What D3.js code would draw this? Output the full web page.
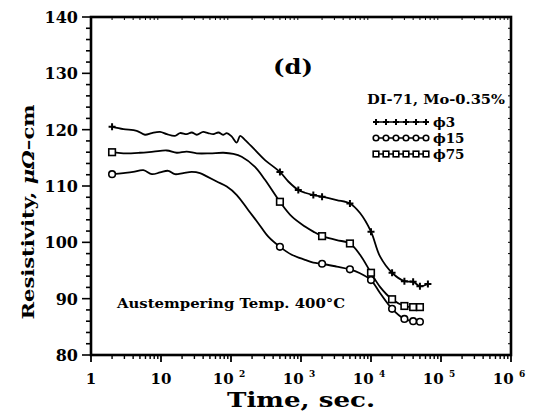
<!DOCTYPE html>
<html>
<head>
<meta charset="utf-8">
<script src="https://cdn.jsdelivr.net/npm/d3@7"></script>
<style>
body { margin: 0; background: #fff; }
text { font-family: "DejaVu Serif", "Liberation Serif", serif; font-weight: bold; fill: #000; }
</style>
</head>
<body>
<div id="chart"></div>
<script>
// resistivity vs time, [time (s), resistivity (uOhm-cm)]
var phi3 = [[2,120.5],[2.9,120.1],[4.5,119.8],[5.9,119.1],[7.4,119.4],[9.7,119.6],[12.1,119.2],
    [15.8,118.9],[18.7,119.4],[23.3,119.2],[27.5,119.5],[32.4,119.1],[40,119.6],[47,119.4],
    [56,119.2],[66,119.5],[78,119.1],[87,119.4],[102,118.8],[121,117.7],[135,118.9],[158,118.2],
    [220,116.4],[306,114.6],[500,112.5],[659,110.8],[915,109.3],[1140,108.8],[1500,108.4],
    [2000,108.1],[3240,107.5],[5000,106.9],[6970,105.2],[10000,101.9],[13450,97.5],
    [20000,94.6],[30000,93.1],[40000,93.0],[50000,92.2],[65000,92.6]];
var phi15 = [[2,112.1],[2.9,112.3],[4.0,112.5],[5.6,112.8],[7.4,112.1],[9.7,112.4],[12.7,112.7],
    [15.8,112.1],[20.8,112.3],[27.5,112.5],[36,112.3],[45,111.7],[62.5,110.8],[87,109.9],
    [121,108.4],[177,105.7],[245,103.4],[341,101.0],[500,99.2],[737,97.8],[1140,96.9],
    [1500,96.4],[2000,96.2],[3240,95.7],[5000,95.2],[6970,94.5],[10000,93.3],[13450,91.0],
    [20000,88.2],[30000,86.4],[40000,86.0],[50000,85.9]];
var phi75 = [[2,116.0],[2.9,115.8],[5.0,115.9],[7.8,116.1],[12.1,116.3],[16.8,115.9],[23.3,116.1],
    [32.4,115.8],[50,115.8],[78,115.9],[108,115.7],[142,115.2],[220,113.4],[306,111.1],
    [500,107.2],[737,104.6],[1140,102.8],[1500,101.9],[2000,101.1],[3240,100.4],[5000,99.8],
    [6970,97.8],[10000,94.6],[13450,92.1],[20000,89.9],[30000,88.7],[40000,88.5],[50000,88.5]];

// the measured points that carry a symbol
var phi3Marks = [[2,120.5],[500,112.5],[915,109.3],[1500,108.4],[2000,108.1],[5000,106.9],
    [10000,101.9],[20000,94.6],[30000,93.1],[40000,93.0],[50000,92.2],[65000,92.6]];
var phi15Marks = [[2,112.1],[500,99.2],[2000,96.2],[5000,95.2],[10000,93.3],[20000,88.2],
    [30000,86.4],[40000,86.0],[50000,85.9]];
var phi75Marks = [[2,116.0],[500,107.2],[2000,101.1],[5000,99.8],[10000,94.6],[20000,89.9],
    [30000,88.7],[40000,88.5],[50000,88.5]];

var yTicks = [80, 90, 100, 110, 120, 130, 140];
var xDecades = [0, 1, 2, 3, 4, 5, 6];
var legendTitle = "DI-71, Mo-0.35%";
var legendNames = ["\u03d53", "\u03d515", "\u03d575"];

var width = 537, height = 412;
var pLeft = 91, pRight = 511, pTop = 17, pBottom = 355;

var svg = d3.select("#chart")
    .append("svg")
    .attr("width", width)
    .attr("height", height)

var x = d3.scaleLog().domain([1, 1e6]).range([pLeft, pRight]);
var y = d3.scaleLinear().domain([80, 140]).range([pBottom, pTop]);

// minor ticks
var yMinor = d3.range(80, 140.1, 2);
var xMinor = [];
for (var k = 0; k < 6; k++) {
    for (var m = 2; m <= 9; m++) xMinor.push(m * Math.pow(10, k));
}

svg.selectAll(".ymin").data(yMinor).enter().append("line")
    .attr("x1", function(d){ return yTicks.indexOf(d) >= 0 ? pLeft - 9 : pLeft - 5; })
    .attr("x2", pLeft)
    .attr("y1", function(d){ return y(d); })
    .attr("y2", function(d){ return y(d); })
    .style("stroke", "#000")
    .style("stroke-width", 1.6)

svg.selectAll(".yright").data(yMinor).enter().append("line")
    .attr("x1", pRight - 3)
    .attr("x2", pRight)
    .attr("y1", function(d){ return y(d); })
    .attr("y2", function(d){ return y(d); })
    .style("stroke", "#000")
    .style("stroke-width", 1)

svg.selectAll(".xmaj").data(xDecades).enter().append("line")
    .attr("x1", function(d){ return x(Math.pow(10, d)); })
    .attr("x2", function(d){ return x(Math.pow(10, d)); })
    .attr("y1", pBottom)
    .attr("y2", pBottom + 7)
    .style("stroke", "#000")
    .style("stroke-width", 1.8)

svg.selectAll(".xmin").data(xMinor).enter().append("line")
    .attr("x1", function(d){ return x(d); })
    .attr("x2", function(d){ return x(d); })
    .attr("y1", pBottom)
    .attr("y2", pBottom + 4)
    .style("stroke", "#000")
    .style("stroke-width", 1.4)

svg.selectAll(".xtop").data(xMinor).enter().append("line")
    .attr("x1", function(d){ return x(d); })
    .attr("x2", function(d){ return x(d); })
    .attr("y1", pTop)
    .attr("y2", pTop + 3)
    .style("stroke", "#000")
    .style("stroke-width", 1)

// frame
svg.append("rect")
    .attr("x", pLeft)
    .attr("y", pTop)
    .attr("width", pRight - pLeft)
    .attr("height", pBottom - pTop)
    .style("fill", "none")
    .style("stroke", "#000")
    .style("stroke-width", 2.6)

// tick labels
svg.selectAll(".ylab").data(yTicks).enter().append("text")
    .attr("x", pLeft - 13)
    .attr("y", function(d){ return y(d) + 6; })
    .attr("text-anchor", "end")
    .style("font-size", "16px")
    .text(function(d){ return d; })

svg.selectAll(".xlab").data(xDecades).enter().append("text")
    .attr("x", function(d){ return x(Math.pow(10, d)) + (d < 2 ? 0 : -2); })
    .attr("y", 384)
    .attr("text-anchor", "middle")
    .style("font-size", "15px")
    .each(function(d){
        var t = d3.select(this);
        if (d == 0) { t.text("1"); return; }
        if (d == 1) { t.text("10"); return; }
        t.append("tspan").text("10 ");
        t.append("tspan").attr("dy", -7).style("font-size", "9px").text(d);
    })

// axis titles
svg.append("text")
    .attr("x", 301)
    .attr("y", 407)
    .attr("text-anchor", "middle")
    .attr("textLength", 148)
    .attr("lengthAdjust", "spacingAndGlyphs")
    .style("font-size", "21px")
    .text("Time,  sec.")

var yt = svg.append("text")
    .attr("transform", "translate(34,212) rotate(-90)")
    .attr("text-anchor", "middle")
    .attr("textLength", 215)
    .attr("lengthAdjust", "spacingAndGlyphs")
    .style("font-size", "16px")
yt.append("tspan").text("Resistivity,  ");
yt.append("tspan").style("font-style", "italic").text("\u03bc\u03a9");
yt.append("tspan").text("\u2013cm");

// annotations
svg.append("text")
    .attr("x", 273)
    .attr("y", 74)
    .attr("textLength", 40)
    .attr("lengthAdjust", "spacingAndGlyphs")
    .style("font-size", "20px")
    .text("(d)")

svg.append("text")
    .attr("x", 117)
    .attr("y", 308)
    .attr("textLength", 228)
    .attr("lengthAdjust", "spacingAndGlyphs")
    .style("font-size", "13px")
    .text("Austempering  Temp.  400\u00b0C")

// curves
var line = d3.line()
    .x(function(d){ return x(d[0]); })
    .y(function(d){ return y(d[1]); })
    .curve(d3.curveCatmullRom.alpha(0.5))

var series = [
    {data: phi3, marks: phi3Marks, sym: "plus"},
    {data: phi15, marks: phi15Marks, sym: "circle"},
    {data: phi75, marks: phi75Marks, sym: "square"}
];

function drawMark(g, sym, cx, cy, s) {
    if (sym == "plus") {
        g.append("path")
            .attr("d", "M" + (cx - s) + "," + cy + "H" + (cx + s) + "M" + cx + "," + (cy - s) + "V" + (cy + s))
            .style("stroke", "#000")
            .style("stroke-width", 2)
    } else if (sym == "circle") {
        g.append("circle")
            .attr("cx", cx).attr("cy", cy).attr("r", s)
            .style("fill", "#fff")
            .style("stroke", "#000")
            .style("stroke-width", 1.6)
    } else {
        g.append("rect")
            .attr("x", cx - s).attr("y", cy - s)
            .attr("width", 2 * s).attr("height", 2 * s)
            .style("fill", "#fff")
            .style("stroke", "#000")
            .style("stroke-width", 1.6)
    }
}

series.forEach(function(s){
    svg.append("path")
        .attr("d", line(s.data))
        .style("fill", "none")
        .style("stroke", "#000")
        .style("stroke-width", 1.8)
    var g = svg.append("g");
    s.marks.forEach(function(p){
        drawMark(g, s.sym, x(p[0]), y(p[1]), s.sym == "plus" ? 3.5 : 3.3);
    })
})

// legend
svg.append("text")
    .attr("x", 367)
    .attr("y", 104)
    .attr("textLength", 138)
    .attr("lengthAdjust", "spacingAndGlyphs")
    .style("font-size", "13px")
    .text(legendTitle)

var rowY = [122, 138, 154];
series.forEach(function(s, i){
    svg.append("line")
        .attr("x1", 376).attr("x2", 426)
        .attr("y1", rowY[i]).attr("y2", rowY[i])
        .style("stroke", "#000")
        .style("stroke-width", 1.6)
    var g = svg.append("g");
    for (var j = 0; j < 6; j++) {
        drawMark(g, s.sym, 376 + j * 10, rowY[i], s.sym == "plus" ? 3 : 2.8);
    }
    svg.append("text")
        .attr("x", 433)
        .attr("y", rowY[i] + 5)
        .style("font-size", "13.5px")
        .text(legendNames[i])
})
</script>
</body>
</html>
